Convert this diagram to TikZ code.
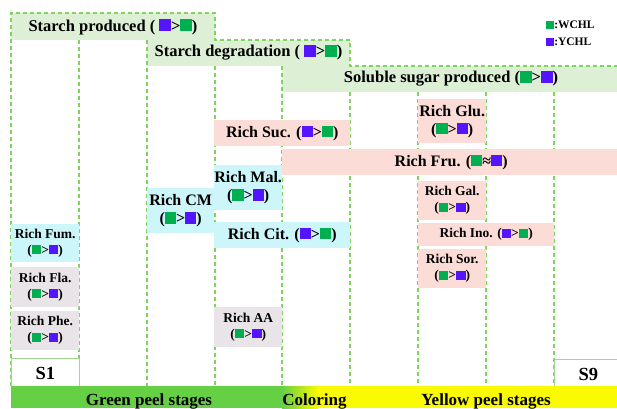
\documentclass[tikz,border=0pt]{standalone}
\usepackage{fontspec}
\setmainfont{Liberation Serif}

\definecolor{bandgreen}{RGB}{221,240,214}
\definecolor{dashgreen}{RGB}{125,213,95}
\definecolor{boxcyan}{RGB}{204,246,250}
\definecolor{boxpink}{RGB}{252,220,214}
\definecolor{boxgray}{RGB}{233,228,231}
\definecolor{sqgreen}{RGB}{0,176,80}
\definecolor{sqpurple}{RGB}{84,20,255}
\definecolor{bargreen}{RGB}{102,208,68}
\definecolor{baryellow}{RGB}{250,250,0}
\definecolor{rahmengruen}{RGB}{160,216,145}

\newcommand{\gq}{\textcolor{sqgreen}{\rule{0.7em}{0.7em}}}
\newcommand{\pq}{\textcolor{sqpurple}{\rule{0.7em}{0.7em}}}

\tikzset{
	spalte/.style={draw=dashgreen, line width=1.2pt, dash pattern=on 4pt off 3pt},
	band/.style={font=\fontsize{16.5}{18}\selectfont\bfseries},
	kasten/.style={anchor=north west, inner sep=0pt, align=center, font=\fontsize{16}{18}\selectfont\bfseries},
	kleinkasten/.style={kasten, font=\fontsize{13.5}{16}\selectfont\bfseries},
	stufe/.style={anchor=north west, inner sep=0pt, fill=white, draw=rahmengruen, line width=0.8pt, font=\fontsize{18.5}{20}\selectfont\bfseries},
	balken/.style={anchor=base, font=\fontsize{17}{19}\selectfont\bfseries}
}

\begin{document}
\begin{tikzpicture}[x=1pt, y=-1pt]
	\fill [white] (0,0) rectangle (617,408);
	\clip (0,0) rectangle (617,408);
% Baender:
	\fill [bandgreen] (11,13) rectangle (215,40);
	\fill [bandgreen] (147,40) rectangle (350,66);
	\fill [bandgreen] (282,66) rectangle (620,92);
	\node [band] (starch) at (113,27) {Starch produced ( \pq>\gq)};
	\node [band] (degr) at (248.5,53) {Starch degradation ( \pq>\gq)};
	\node [band] (sugar) at (451,79) {Soluble sugar produced (\gq>\pq)};
% Spalten
	\draw [spalte] (11,386) -- (11,13) -- (215,13) -- (215,40) -- (350,40) -- (350,66) -- (620,66);
	\draw [spalte] (79,40) -- (79,386);
	\draw [spalte] (147,40) -- (147,386);
	\draw [spalte] (215,66) -- (215,386);
	\draw [spalte] (282,66) -- (282,386);
	\draw [spalte] (350,92) -- (350,386);
	\draw [spalte] (418,92) -- (418,386);
	\draw [spalte] (486,92) -- (486,386);
	\draw [spalte] (554,92) -- (554,386);
% Legende
	\node [anchor=west, inner sep=0pt, font=\fontsize{11.5}{13}\selectfont\bfseries] (wchl) at (546,25) {\gq:WCHL};
	\node [anchor=west, inner sep=0pt, font=\fontsize{11.5}{13}\selectfont\bfseries] (ychl) at (546,42) {\pq:YCHL};
% Kaesten
	\node [kasten, fill=boxpink, minimum width=136pt, minimum height=26pt] (suc) at (214,120) {Rich Suc. (\pq>\gq)};
	\node [kasten, fill=boxpink, minimum width=338pt, minimum height=26pt] (fru) at (282,149) {Rich Fru. (\gq≈\pq)};
	\node [kasten, fill=boxpink, minimum width=68pt, minimum height=44pt] (glu) at (418,99) {Rich Glu.\\(\gq>\pq)};
	\node [kasten, fill=boxcyan, minimum width=68pt, minimum height=45pt] (mal) at (214,165) {Rich Mal.\\(\gq>\pq)};
	\node [kasten, fill=boxcyan, minimum width=67pt, minimum height=45pt] (cm) at (147,188) {Rich CM\\(\gq>\pq)};
	\node [kasten, fill=boxcyan, minimum width=136pt, minimum height=26pt] (cit) at (214,222) {Rich Cit. (\pq>\gq)};
	\node [kleinkasten, fill=boxcyan, minimum width=68pt, minimum height=38pt] (fum) at (11,224) {Rich Fum.\\(\gq>\pq)};
	\node [kleinkasten, fill=boxpink, minimum width=68pt, minimum height=39pt] (gal) at (418,181) {Rich Gal.\\(\gq>\pq)};
	\node [kleinkasten, fill=boxpink, minimum width=136pt, minimum height=23pt] (ino) at (418,223) {Rich Ino. (\pq>\gq)};
	\node [kleinkasten, fill=boxpink, minimum width=68pt, minimum height=39pt] (sor) at (418,249) {Rich Sor.\\(\gq>\pq)};
	\node [kleinkasten, fill=boxgray, minimum width=68pt, minimum height=40pt] (fla) at (11,267) {Rich Fla.\\(\gq>\pq)};
	\node [kleinkasten, fill=boxgray, minimum width=68pt, minimum height=39pt] (phe) at (11,311) {Rich Phe.\\(\gq>\pq)};
	\node [kleinkasten, fill=boxgray, minimum width=68pt, minimum height=40pt] (aa) at (214,307) {Rich AA\\(\gq>\pq)};
% Stadien
	\node [stufe, minimum width=68pt, minimum height=31pt] (s1) at (11,358) {S1};
	\node [stufe, minimum width=68pt, minimum height=31pt] (s9) at (554,359) {S9};
% Balken unten
	\fill [bargreen] (11,386) rectangle (282,408);
	\shade [left color=bargreen, right color=baryellow] (282,386) rectangle (318,408);
	\fill [baryellow] (318,386) rectangle (620,408);
	\node [balken] (gruen) at (149,405) {Green peel stages};
	\node [balken] (farbe) at (314.5,405) {Coloring};
	\node [balken] (gelb) at (486,405) {Yellow peel stages};
\end{tikzpicture}
\end{document}
